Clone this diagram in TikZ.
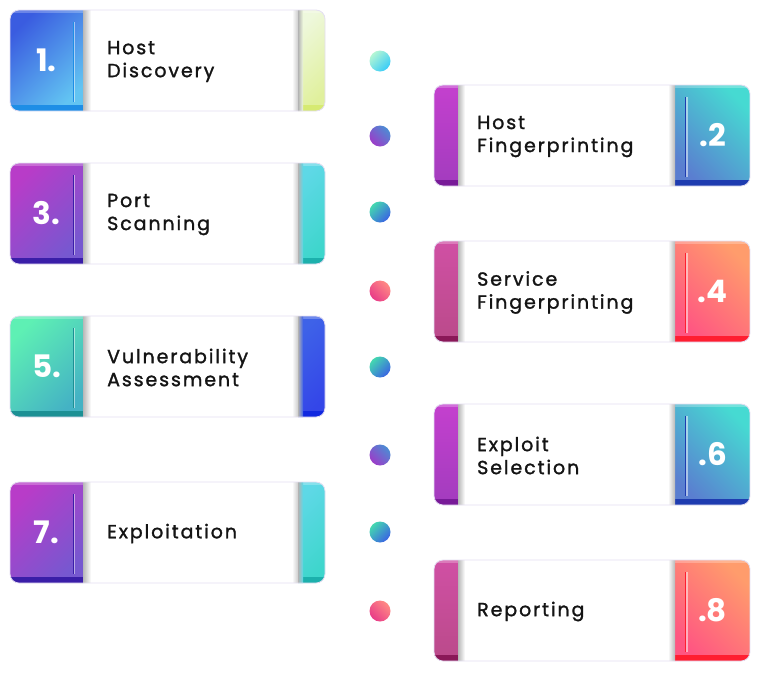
\documentclass[tikz,border=0pt]{standalone}
\usepackage{fontspec}
\setmainfont{Poppins}
\newfontfamily\labfont[LetterSpace=10,FakeBold=1.4]{Poppins}
\usetikzlibrary{positioning}

% block / strip colours (A = light corner, B = far corner, E = bottom edge)
\definecolor{blueA}{HTML}{3A5CE0}
\definecolor{blueB}{HTML}{62C4F2}
\definecolor{blueE}{HTML}{1E8EE6}
\definecolor{limeA}{HTML}{EEF8DC}
\definecolor{limeB}{HTML}{E0F09C}
\definecolor{limeE}{HTML}{D6EA72}
\definecolor{violA}{HTML}{B83CC8}
\definecolor{violB}{HTML}{7658D0}
\definecolor{violE}{HTML}{3A1EA8}
\definecolor{tealA}{HTML}{5ED8E6}
\definecolor{tealB}{HTML}{3ED6CC}
\definecolor{tealE}{HTML}{1CB0AC}
\definecolor{mintA}{HTML}{5EF0B4}
\definecolor{mintB}{HTML}{44B2C4}
\definecolor{mintE}{HTML}{1C9094}
\definecolor{royalA}{HTML}{3E62E8}
\definecolor{royalB}{HTML}{3446E8}
\definecolor{royalE}{HTML}{1028E0}
\definecolor{magA}{HTML}{C440CE}
\definecolor{magB}{HTML}{A23CBE}
\definecolor{magE}{HTML}{781A98}
\definecolor{aquaA}{HTML}{46DAD2}
\definecolor{aquaB}{HTML}{5A7ED0}
\definecolor{aquaE}{HTML}{1E3CB0}
\definecolor{roseA}{HTML}{D050A4}
\definecolor{roseB}{HTML}{BA4A8A}
\definecolor{roseE}{HTML}{8A1858}
\definecolor{peachA}{HTML}{FF9C6C}
\definecolor{peachB}{HTML}{FF5682}
\definecolor{peachE}{HTML}{FF1E30}
% dot colours
\definecolor{dotLimeA}{HTML}{B4F6D4}
\definecolor{dotLimeB}{HTML}{38CCF8}
\definecolor{dotBlue}{HTML}{4C8CD4}
\definecolor{dotPurple}{HTML}{9C3CC8}
\definecolor{dotTeal}{HTML}{44D8B0}
\definecolor{dotRoyal}{HTML}{3A64E2}
\definecolor{dotPeach}{HTML}{FF8A84}
\definecolor{dotPink}{HTML}{E83C88}
\definecolor{rimcol}{HTML}{E4DEF2}

\begin{document}
\begin{tikzpicture}[x=1pt, y=-1pt,
    lab/.style={font=\labfont\fontsize{19}{23}\selectfont, align=left, anchor=west, inner sep=0pt, text=black!92},
    num/.style={font=\fontsize{31}{31}\selectfont\bfseries, text=white, inner sep=0pt},
    dotball/.style={circle, minimum size=21pt, inner sep=0pt},
    rim/.style={draw=rimcol, line width=0.8pt, rounded corners=9pt}]
	\useasboundingbox (0,0) rectangle (762,678);
	% left column: number block / text / strip
	\foreach \n/\ytop/\lab/\ca/\cb/\ce/\sa/\sb/\se in {
	  1/10/{Host\\Discovery}/blueA/blueB/blueE/limeA/limeB/limeE,
	  3/163/{Port\\Scanning}/violA/violB/violE/tealA/tealB/tealE,
	  5/316/{Vulnerability\\Assessment}/mintA/mintB/mintE/royalA/royalB/royalE,
	  7/482/{Exploitation}/violA/violB/violE/tealA/tealB/tealE} {
		\begin{scope}
			\clip[rounded corners=9pt] (10,\ytop) rectangle ++(315,101);
			\fill[white] (10,\ytop) rectangle ++(315,101);
			\shade[top color=\ca, bottom color=\cb, shading angle=45] (10,\ytop) rectangle ++(73,101);
			\fill[\ce] (10,\ytop+95) rectangle ++(73,6);
			\shade[top color=\sa, bottom color=\sb, shading angle=45] (298,\ytop) rectangle ++(27,101);
			\fill[\se] (298,\ytop+95) rectangle ++(27,6);
			\fill[white, opacity=0.25] (10,\ytop) rectangle ++(315,3);
			\shade[left color=black!28, right color=white] (83,\ytop) rectangle ++(8,101);
			\shade[left color=white, right color=black!20] (292,\ytop) rectangle ++(6,101);
			\shade[left color=black!30, right color=\sa] (298,\ytop) rectangle ++(5,101);
		\end{scope}
		\draw[\ce, line width=0.8pt] (73.4,\ytop+12) -- ++(0,80);
		\draw[white, opacity=0.5, line width=1.2pt] (74.6,\ytop+12) -- ++(0,80);
		\draw[rim] (10,\ytop) rectangle ++(315,101);
		\node[num] (num\n) at (46.5,\ytop+50) {\n.};
		\node[lab] (lab\n) at (107,\ytop+51.5) {\lab};
	}
	% right column: strip / text / number block
	\foreach \n/\ytop/\lab/\sa/\sb/\se/\ca/\cb/\ce in {
	  2/85/{Host\\Fingerprinting}/magA/magB/magE/aquaA/aquaB/aquaE,
	  4/241/{Service\\Fingerprinting}/roseA/roseB/roseE/peachA/peachB/peachE,
	  6/404/{Exploit\\Selection}/magA/magB/magE/aquaA/aquaB/aquaE,
	  8/560/{Reporting}/roseA/roseB/roseE/peachA/peachB/peachE} {
		\begin{scope}
			\clip[rounded corners=9pt] (434,\ytop) rectangle ++(316,101);
			\fill[white] (434,\ytop) rectangle ++(316,101);
			\shade[top color=\sa, bottom color=\sb] (434,\ytop) rectangle ++(24,101);
			\fill[\se] (434,\ytop+95) rectangle ++(24,6);
			\shade[top color=\ca, bottom color=\cb, shading angle=-45] (675,\ytop) rectangle ++(75,101);
			\fill[\ce] (675,\ytop+95) rectangle ++(75,6);
			\fill[white, opacity=0.25] (434,\ytop) rectangle ++(316,3);
			\shade[left color=black!28, right color=white] (458,\ytop) rectangle ++(7,101);
			\shade[left color=white, right color=black!28] (668,\ytop) rectangle ++(7,101);
		\end{scope}
		\draw[\ce, line width=0.8pt] (685.8,\ytop+12) -- ++(0,80);
		\draw[white, opacity=0.5, line width=1.2pt] (687,\ytop+12) -- ++(0,80);
		\draw[rim] (434,\ytop) rectangle ++(316,101);
		\node[num] (num\n) at (712.5,\ytop+50) {.\n};
		\node[lab] (lab\n) at (477,\ytop+51.5) {\lab};
	}
	% dots in the middle
	\foreach \n/\yy/\ta/\tb/\ang in {1/61/dotLimeA/dotLimeB/45, 2/136/dotBlue/dotPurple/-45,
	  3/212/dotTeal/dotRoyal/45, 4/291/dotPeach/dotPink/-45, 5/367/dotTeal/dotRoyal/45,
	  6/455/dotBlue/dotPurple/-45, 7/532/dotTeal/dotRoyal/45, 8/611/dotPeach/dotPink/-45} {
		\node[dotball, top color=\ta, bottom color=\tb, shading angle=\ang] (dot\n) at (380,\yy) {};
	}
\end{tikzpicture}
\end{document}
